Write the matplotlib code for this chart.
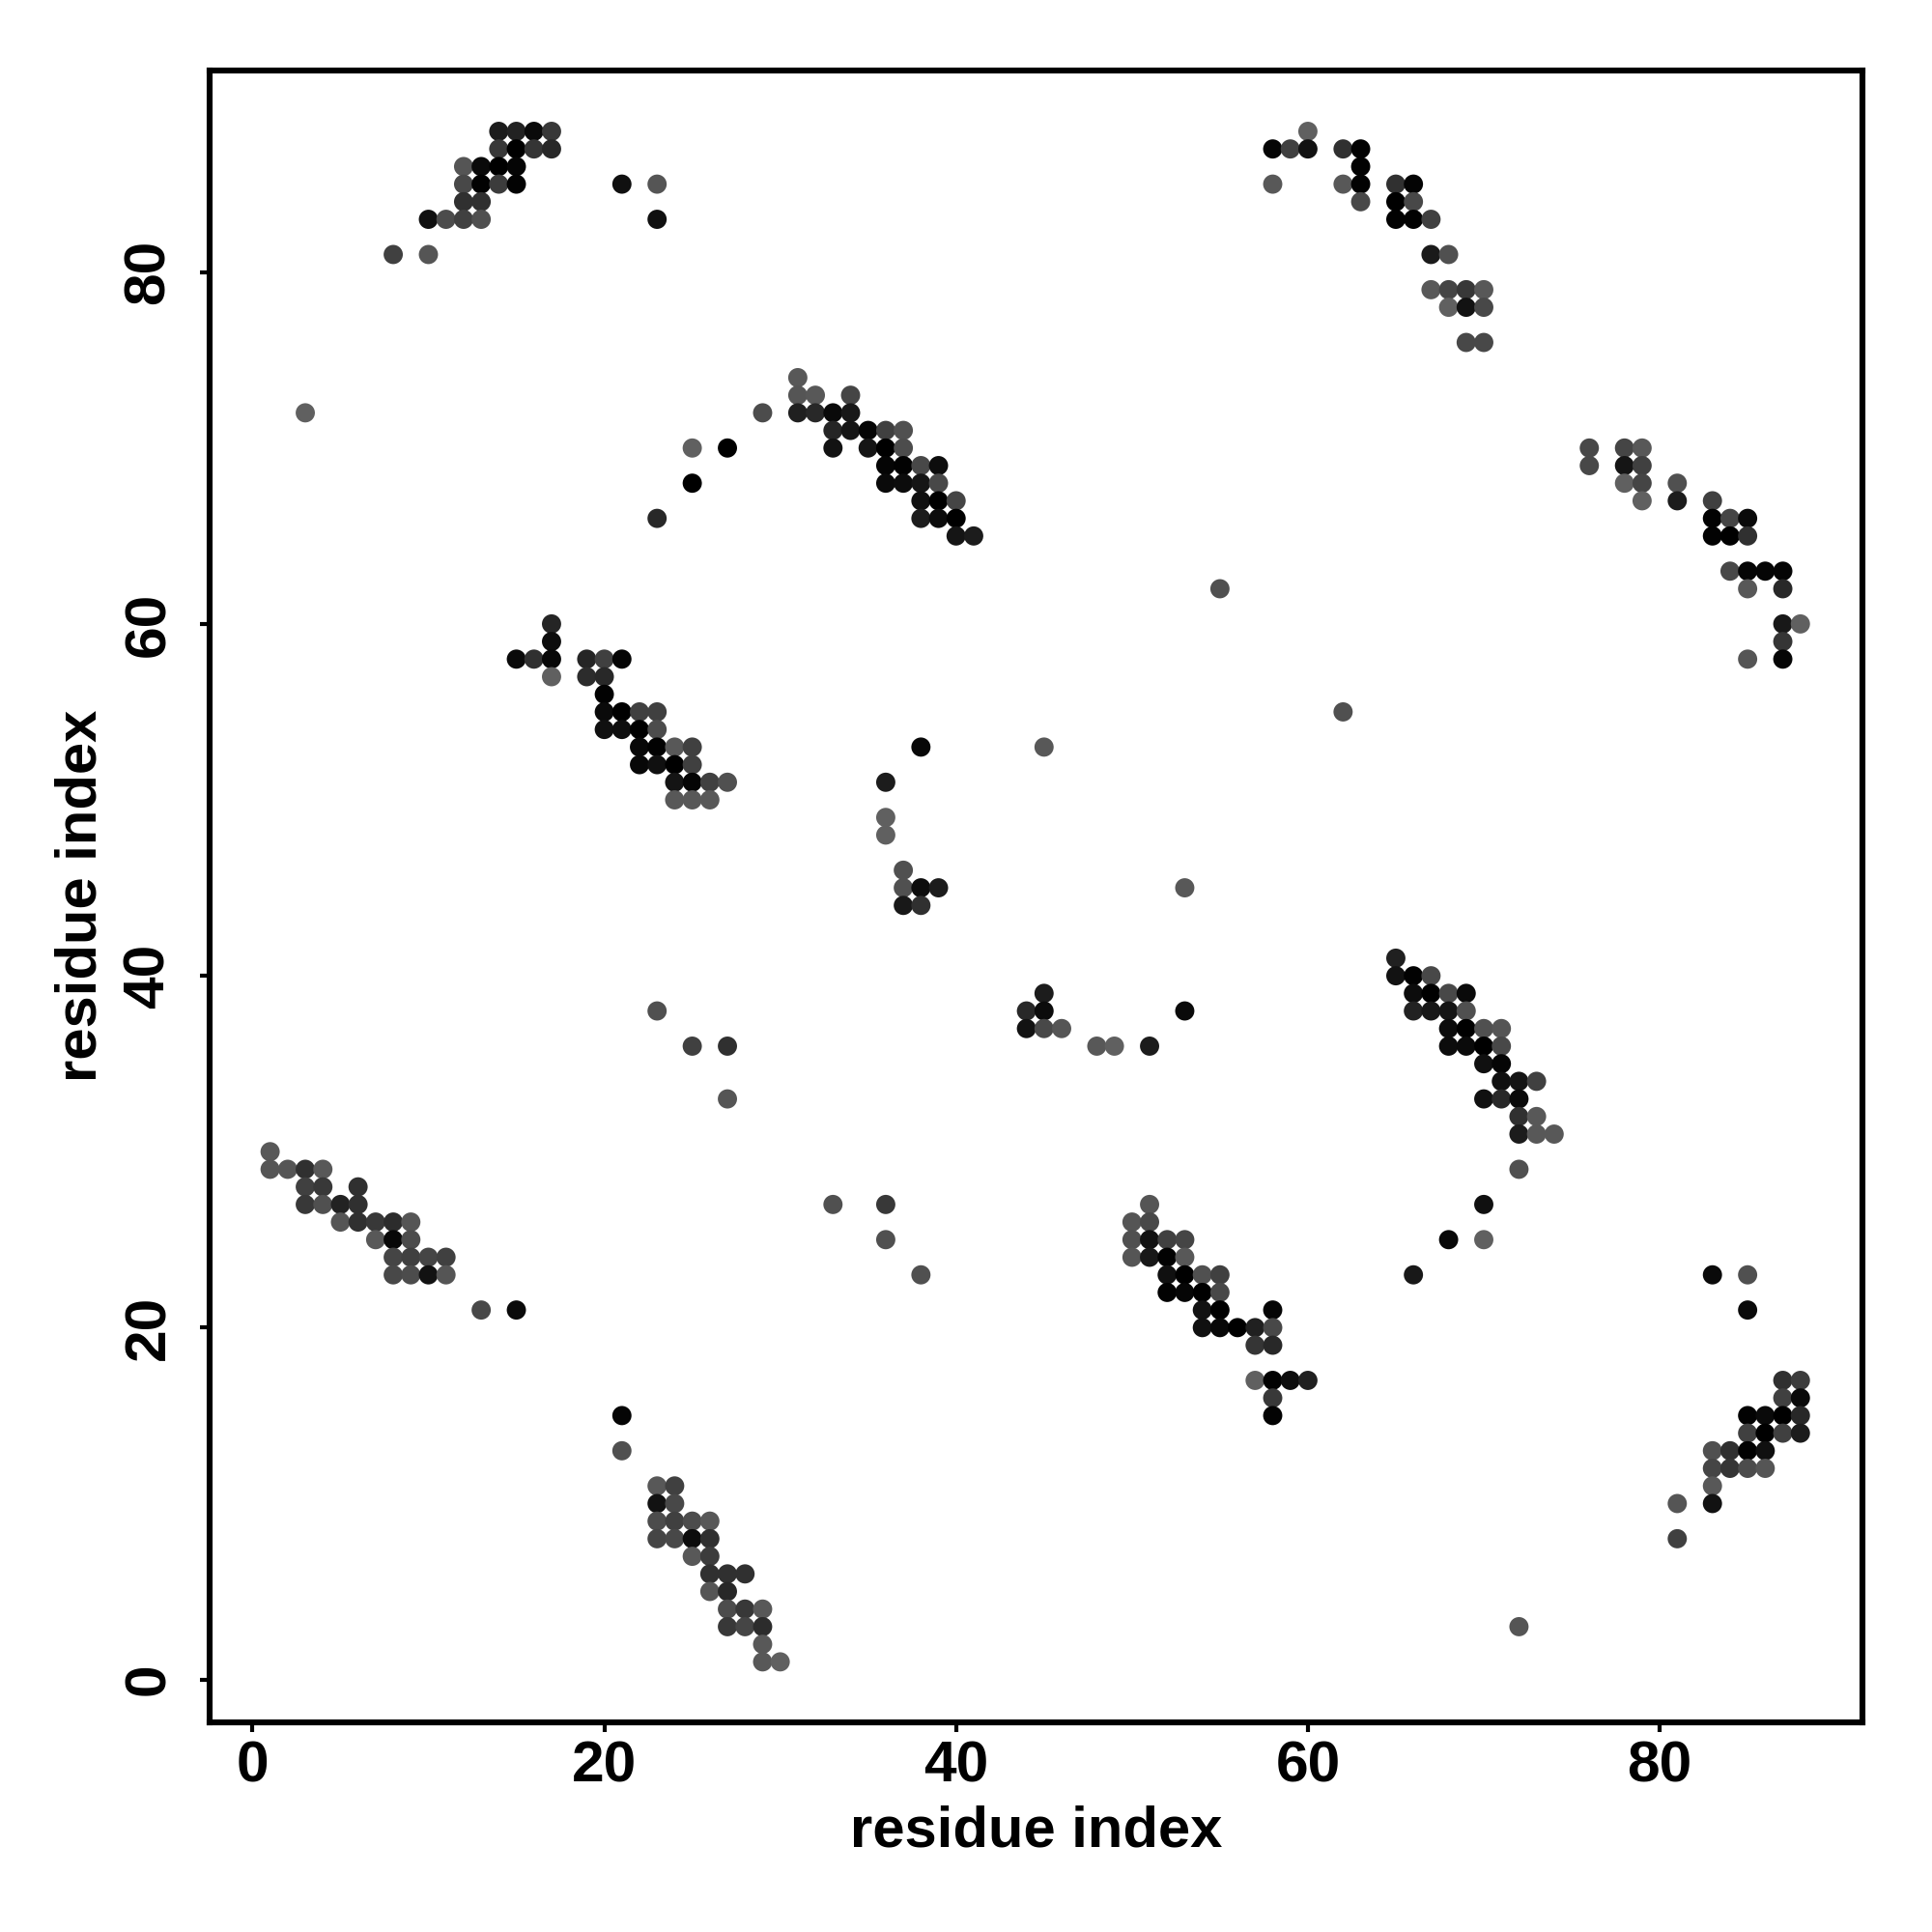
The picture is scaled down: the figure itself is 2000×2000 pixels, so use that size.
import matplotlib
matplotlib.use("Agg")
import matplotlib.pyplot as plt

plt.rcParams['font.family'] = ['Liberation Sans', 'DejaVu Sans']

TICKS = [0, 20, 40, 60, 80]

# each row: one y value, the x values found on it, and their grey levels
rows_y = [
    88, 87, 86, 85, 84, 83, 81, 72,
    88, 87, 86, 85, 84, 83, 81, 79, 78, 76,
    74, 73, 72, 71, 70, 69, 68, 67, 66, 65,
    70, 69, 68, 67, 66, 65, 63, 62, 60, 59, 58,
    60, 59, 58, 57, 56, 55, 54, 53, 52, 51, 50,
    53, 51, 49, 48, 46, 45, 44, 39, 38, 37, 36, 62, 55,
    41, 40, 39, 38, 37, 36, 35, 34, 33, 32, 31, 29,
    38, 36, 33, 27, 25, 23,
    30, 29, 28, 27, 26, 25, 24, 23, 21,
    27, 26, 25, 24, 23, 22, 21, 20, 19, 17, 16, 15,
    15, 13, 11, 10, 9, 8, 7, 6, 5, 4, 3, 2, 1,
    17, 16, 15, 14, 13, 12, 11, 10, 8,
    27, 25, 23, 23, 21, 3,
]
rows_x = [
    [14, 15, 16, 17], [14, 15, 16, 17], [12, 13, 14, 15], [12, 13, 14, 15, 21, 23],
    [12, 13], [10, 11, 12, 13, 23], [8, 10], [3],
    [60], [58, 59, 60, 62, 63], [63], [58, 62, 63, 65, 66], [63, 65, 66], [65, 66, 67],
    [67, 68], [67, 68, 69, 70], [68, 69, 70], [69, 70],
    [31], [31, 32, 34], [29, 31, 32, 33, 34], [33, 34, 35, 36, 37], [25, 27, 33, 35, 36, 37],
    [36, 37, 38, 39], [25, 36, 37, 38, 39], [38, 39, 40], [23, 38, 39, 40], [40, 41],
    [76, 78, 79], [76, 78, 79], [78, 79, 81], [79, 81, 83], [83, 84, 85], [83, 84, 85],
    [84, 85, 86, 87], [85, 87], [87, 88], [87], [85, 87],
    [17], [17], [15, 16, 17, 19, 20, 21], [17, 19, 20], [20], [20, 21, 22, 23], [20, 21, 22, 23],
    [22, 23, 24, 25], [22, 23, 24, 25], [24, 25, 26, 27], [24, 25, 26],
    [38, 45], [36], [36], [36], [37], [37, 38, 39, 53], [37, 38], [45], [44, 45, 53],
    [44, 45, 46], [48, 49, 51], [55], [62],
    [65], [65, 66, 67], [66, 67, 68, 69], [66, 67, 68, 69], [68, 69, 70, 71], [68, 69, 70, 71],
    [70, 71], [71, 72, 73], [70, 71, 72], [72, 73], [72, 73, 74], [72],
    [23], [25, 27], [27], [33, 36], [36], [38],
    [1], [1, 2, 3, 4], [3, 4, 6], [3, 4, 5, 6], [5, 6, 7, 8, 9], [7, 8, 9], [8, 9, 10, 11],
    [8, 9, 10, 11], [13, 15],
    [51], [50, 51], [50, 51, 52, 53], [50, 51, 52, 53], [52, 53, 54, 55], [52, 53, 54, 55],
    [54, 55, 58], [54, 55, 56, 57, 58], [57, 58], [57, 58, 59, 60], [58], [58],
    [21], [21], [23, 24], [23, 24], [23, 24, 25, 26], [23, 24, 25, 26], [25, 26], [26, 27, 28],
    [26, 27], [27, 28, 29], [27, 28, 29], [29], [29, 30],
    [87, 88], [87, 88], [85, 86, 87, 88], [85, 86, 87, 88], [83, 84, 85, 86], [83, 84, 85, 86],
    [83], [81, 83], [81],
    [70], [68, 70], [66], [83, 85], [85], [72],
]
rows_shade = [
    [0x1c, 0x22, 0x0a, 0x38], [0x38, 0x00, 0x35, 0x28], [0x55, 0x0a, 0x00, 0x05],
    [0x48, 0x02, 0x3c, 0x03, 0x10, 0x55], [0x30, 0x30], [0x10, 0x4c, 0x40, 0x50, 0x10],
    [0x40, 0x55], [0x60],
    [0x60], [0x05, 0x40, 0x12, 0x30, 0x02], [0x02], [0x58, 0x58, 0x02, 0x30, 0x04],
    [0x48, 0x00, 0x48], [0x02, 0x02, 0x40], [0x1a, 0x50], [0x58, 0x45, 0x38, 0x58],
    [0x60, 0x12, 0x48], [0x48, 0x48],
    [0x58], [0x55, 0x58, 0x45], [0x4c, 0x20, 0x28, 0x0a, 0x18], [0x25, 0x15, 0x05, 0x40, 0x50],
    [0x60, 0x00, 0x12, 0x15, 0x00, 0x4c], [0x05, 0x02, 0x48, 0x0d], [0x00, 0x0a, 0x0c, 0x15, 0x48],
    [0x10, 0x00, 0x45], [0x28, 0x1c, 0x0c, 0x00], [0x15, 0x1c],
    [0x48, 0x45, 0x58], [0x48, 0x15, 0x40], [0x60, 0x45, 0x50], [0x60, 0x1c, 0x40],
    [0x02, 0x45, 0x0a], [0x02, 0x00, 0x30], [0x48, 0x05, 0x05, 0x05], [0x58, 0x28],
    [0x18, 0x60], [0x35], [0x55, 0x05],
    [0x25], [0x0c], [0x0a, 0x30, 0x08, 0x25, 0x40, 0x05], [0x60, 0x2c, 0x28], [0x02],
    [0x0a, 0x00, 0x40, 0x40], [0x10, 0x0e, 0x00, 0x4c], [0x08, 0x02, 0x58, 0x40],
    [0x08, 0x10, 0x00, 0x40], [0x14, 0x05, 0x40, 0x50], [0x58, 0x58, 0x58],
    [0x08, 0x58], [0x1c], [0x60], [0x60], [0x50], [0x50, 0x0d, 0x1c, 0x58], [0x18, 0x30],
    [0x1c], [0x28, 0x0c, 0x0a], [0x12, 0x48, 0x55], [0x58, 0x60, 0x1c], [0x50], [0x50],
    [0x20], [0x12, 0x02, 0x48], [0x0c, 0x00, 0x48, 0x0a], [0x22, 0x18, 0x15, 0x50],
    [0x0c, 0x00, 0x50, 0x55], [0x0c, 0x0a, 0x00, 0x48], [0x10, 0x05], [0x10, 0x14, 0x40],
    [0x10, 0x28, 0x0a], [0x30, 0x58], [0x1c, 0x58, 0x58], [0x50],
    [0x50], [0x40, 0x30], [0x55], [0x50, 0x38], [0x50], [0x50],
    [0x58], [0x55, 0x55, 0x30, 0x58], [0x40, 0x38, 0x30], [0x38, 0x50, 0x22, 0x30],
    [0x55, 0x30, 0x38, 0x2c, 0x55], [0x58, 0x08, 0x4c], [0x45, 0x40, 0x45, 0x40],
    [0x48, 0x4c, 0x12, 0x55], [0x48, 0x0a],
    [0x55], [0x55, 0x48], [0x50, 0x12, 0x40, 0x45], [0x55, 0x18, 0x02, 0x58],
    [0x10, 0x00, 0x50, 0x40], [0x02, 0x06, 0x00, 0x48], [0x12, 0x00, 0x05],
    [0x10, 0x08, 0x00, 0x20, 0x48], [0x35, 0x28], [0x60, 0x02, 0x0d, 0x20], [0x38], [0x03],
    [0x05], [0x50], [0x58, 0x40], [0x12, 0x48], [0x4c, 0x40, 0x4c, 0x58], [0x45, 0x48, 0x0c, 0x30],
    [0x58, 0x3c], [0x30, 0x30, 0x30], [0x55, 0x28], [0x4c, 0x38, 0x58], [0x38, 0x45, 0x2c],
    [0x58], [0x58, 0x60],
    [0x30, 0x3c], [0x40, 0x0a], [0x02, 0x0a, 0x00, 0x28], [0x40, 0x00, 0x40, 0x1c],
    [0x50, 0x30, 0x02, 0x10], [0x45, 0x35, 0x4c, 0x55], [0x58], [0x55, 0x12], [0x40],
    [0x10], [0x08, 0x60], [0x18], [0x0a, 0x50], [0x0a], [0x55],
]


def flatten_rows():
    xs, ys, colors = [], [], []
    for y, row_x, row_shade in zip(rows_y, rows_x, rows_shade):
        for x, shade in zip(row_x, row_shade):
            xs.append(x)
            ys.append(y)
            colors.append((shade / 255, shade / 255, shade / 255))
    return xs, ys, colors


def main():
    xs, ys, colors = flatten_rows()

    fig = plt.figure(figsize=(20, 20), dpi=100)
    ax = fig.add_axes([0.1084, 0.1085, 0.8558, 0.8552])
    ax.scatter(xs, ys, c=colors, s=205, linewidths=0, zorder=3)

    ax.set_xlim(-2.45, 91.55)
    ax.set_ylim(-2.44, 91.48)
    ax.set_xticks(TICKS)
    ax.set_yticks(TICKS)
    ax.tick_params(length=7, width=3, labelsize=43.5)
    ax.tick_params(axis='x', pad=6)
    ax.tick_params(axis='y', pad=18)
    for label in ax.get_xticklabels():
        label.set_fontweight('bold')
    for label in ax.get_yticklabels():
        label.set_fontweight('bold')
        label.set_rotation(90)
        label.set_verticalalignment('center')
    for spine in ax.spines.values():
        spine.set_linewidth(4.4)

    ax.set_xlabel('residue index', fontsize=43, fontweight='bold', labelpad=9)
    ax.set_ylabel('residue index', fontsize=43, fontweight='bold', labelpad=11)

    fig.savefig('out.png', dpi=100)
    plt.close(fig)


if __name__ == "__main__":
    main()
